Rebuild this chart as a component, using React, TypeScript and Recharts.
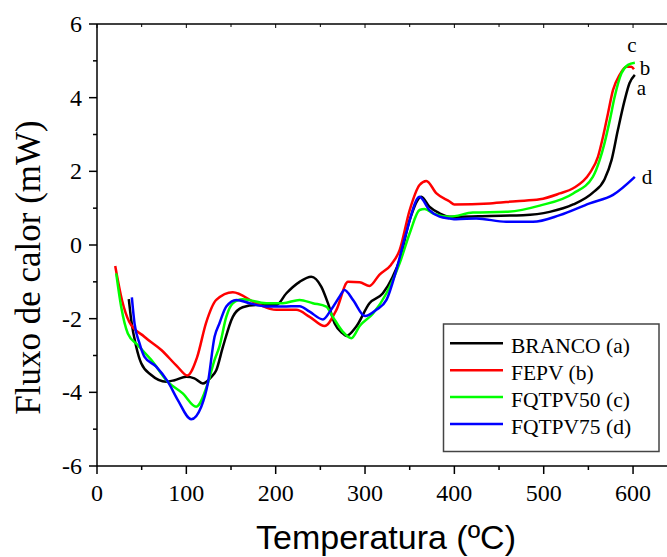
import React from "react";
import { LineChart, Line, XAxis, YAxis } from "recharts";

// ---- data ----
const brancoT = [35.6, 38.3, 43.9, 49.5, 60.7, 77.5, 86.8, 99.9, 109, 118.5, 128, 133.5, 141, 152, 163, 178, 200.7, 212, 226.8, 239.8, 251, 258.5, 266, 275, 279, 290, 305, 320, 331, 338.7, 350, 363, 372, 383.5, 394.7, 402, 439.5, 476.8, 506.7, 533, 555, 568, 576, 583, 590.7, 596, 602];
const brancoQ = [-1.47, -2.04, -2.76, -3.21, -3.53, -3.71, -3.67, -3.58, -3.62, -3.76, -3.58, -3.4, -2.76, -1.95, -1.69, -1.63, -1.63, -1.31, -1.0, -0.86, -1.13, -1.58, -2.13, -2.4, -2.47, -2.22, -1.58, -1.31, -0.86, -0.41, 0.68, 1.31, 1.04, 0.86, 0.77, 0.77, 0.79, 0.81, 0.9, 1.1, 1.42, 1.78, 2.31, 3.12, 3.94, 4.39, 4.62];

const fepvT = [20.4, 28, 36, 53, 72, 90, 101, 112, 122, 133.5, 152, 178, 200.7, 223, 238, 254.8, 268, 281, 294, 305, 316, 329, 338.7, 350, 361, 368.6, 380, 394.7, 400, 439.5, 469, 495.5, 518, 533, 551.5, 560.8, 566.4, 572, 577.6, 585, 592.6, 598, 601];
const fepvQ = [-0.57, -1.5, -2.08, -2.49, -2.85, -3.3, -3.54, -3.05, -2.12, -1.49, -1.28, -1.58, -1.76, -1.76, -1.95, -2.2, -1.76, -1.0, -1.01, -1.11, -0.81, -0.54, -0.14, 0.95, 1.63, 1.74, 1.4, 1.18, 1.1, 1.13, 1.19, 1.24, 1.4, 1.54, 1.95, 2.4, 2.94, 3.58, 4.21, 4.62, 4.84, 4.84, 4.77];

const fqtpv50T = [21.5, 27, 34.5, 45.7, 60.7, 79, 96, 111, 124, 131.6, 137, 144.7, 152, 163, 189.5, 208, 226.8, 241.6, 256.6, 264, 275, 284.7, 294, 309, 324, 338.7, 350, 361, 366.7, 376, 394.7, 420.8, 458, 495.5, 533, 555, 562.7, 568, 574, 579.5, 587, 594.4, 602];
const fqtpv50Q = [-0.77, -1.67, -2.4, -2.72, -3.12, -3.71, -4.03, -4.39, -3.76, -3.12, -2.76, -1.95, -1.58, -1.47, -1.58, -1.58, -1.49, -1.58, -1.67, -1.95, -2.35, -2.53, -2.2, -1.86, -1.31, -0.5, 0.32, 0.95, 0.98, 0.86, 0.77, 0.88, 0.9, 1.07, 1.4, 1.85, 2.31, 2.76, 3.39, 4.03, 4.66, 4.89, 4.95];

const fqtpv75T = [39, 42, 47.6, 53, 66.3, 79.3, 90.5, 105.5, 116.7, 124, 131.6, 137, 144.7, 156, 170.8, 189.5, 208, 226.8, 238, 252.9, 262, 271.6, 277, 286.5, 300, 312.6, 324, 335, 346, 361, 372, 383.5, 394.7, 402, 424.6, 458, 488, 518, 551.5, 577.6, 602];
const fqtpv75Q = [-1.42, -2.13, -2.67, -3.03, -3.3, -3.71, -4.21, -4.73, -4.39, -3.76, -2.49, -2.13, -1.67, -1.49, -1.58, -1.67, -1.67, -1.66, -1.81, -2.02, -1.76, -1.4, -1.22, -1.49, -1.93, -1.76, -1.49, -0.68, 0.32, 1.31, 0.95, 0.77, 0.72, 0.7, 0.72, 0.63, 0.63, 0.81, 1.13, 1.36, 1.85];

const seriesNames = ["BRANCO (a)", "FEPV (b)", "FQTPV50 (c)", "FQTPV75 (d)"];
const endLetters = ["a", "b", "c", "d"];
const seriesColors = ["#000000", "#ff0000", "#00ff00", "#0000ff"];

const xTicks = [0, 50, 100, 150, 200, 250, 300, 350, 400, 450, 500, 550, 600];
const yTicks = [-6, -5, -4, -3, -2, -1, 0, 1, 2, 3, 4, 5, 6];

const zip = (t: number[], q: number[]) => t.map((x, i) => ({ x, y: q[i] }));
const seriesData = [zip(brancoT, brancoQ), zip(fepvT, fepvQ), zip(fqtpv50T, fqtpv50Q), zip(fqtpv75T, fqtpv75Q)];

const SERIF = "'Liberation Serif', 'Times New Roman', serif";
const SANS = "'Liberation Sans', Arial, sans-serif";

const BottomTick = (props: any) => {
  const { x, y, payload } = props;
  const major = payload.value % 100 === 0;
  return (
    <g>
      <line x1={x} x2={x} y1={y} y2={y + (major ? 8 : 4)} stroke="#000" strokeWidth={1.5} />
      {major && (
        <text x={x} y={y + 35} textAnchor="middle" fontFamily={SERIF} fontSize={24} fill="#000">
          {payload.value}
        </text>
      )}
    </g>
  );
};

const TopTick = (props: any) => {
  const { x, y, payload } = props;
  const major = payload.value % 100 === 0;
  return <line x1={x} x2={x} y1={y} y2={y + (major ? 4 : 3)} stroke="#000" strokeWidth={1} />;
};

const LeftTick = (props: any) => {
  const { x, y, payload } = props;
  const major = payload.value % 2 === 0;
  return (
    <g>
      <line x1={x} x2={x - (major ? 8 : 4)} y1={y} y2={y} stroke="#000" strokeWidth={1.5} />
      {major && (
        <text x={x - 15} y={y + 8} textAnchor="end" fontFamily={SERIF} fontSize={24} fill="#000">
          {payload.value}
        </text>
      )}
    </g>
  );
};

// end-of-curve letter positions (text placement)
const letterPos = [
  { x: 641.5, y: 95 },
  { x: 645, y: 75 },
  { x: 632, y: 52 },
  { x: 647, y: 184 },
];

export default function App() {
  return (
    <div style={{ position: "absolute", left: 0, top: 0, width: 667, height: 557, background: "#fff", overflow: "hidden" }}>
      <LineChart width={667} height={557} margin={{ top: 0, right: 0, bottom: 0, left: 0 }}>
        <XAxis
          xAxisId="top"
          orientation="top"
          type="number"
          dataKey="x"
          domain={[0, 638]}
          ticks={xTicks}
          interval={0}
          height={24}
          tickSize={0}
          tickMargin={0}
          tick={<TopTick />}
          axisLine={{ stroke: "#000", strokeWidth: 1.5 }}
          tickLine={false}
          allowDataOverflow
        />
        <XAxis
          type="number"
          dataKey="x"
          domain={[0, 638]}
          ticks={xTicks}
          interval={0}
          height={91}
          tickSize={0}
          tickMargin={0}
          tick={<BottomTick />}
          axisLine={{ stroke: "#000", strokeWidth: 1.5 }}
          tickLine={false}
          allowDataOverflow
        />
        <YAxis
          type="number"
          domain={[-6, 6]}
          ticks={yTicks}
          interval={0}
          width={97}
          tickSize={0}
          tickMargin={0}
          tick={<LeftTick />}
          axisLine={{ stroke: "#000", strokeWidth: 1.5 }}
          tickLine={false}
          allowDataOverflow
        />
        {seriesData.map((d, i) => (
          <Line
            key={seriesNames[i]}
            data={d}
            dataKey="y"
            type="monotone"
            stroke={seriesColors[i]}
            strokeWidth={2.5}
            dot={false}
            activeDot={false}
            isAnimationActive={false}
          />
        ))}
      </LineChart>
      <svg
        width={667}
        height={557}
        style={{ position: "absolute", left: 0, top: 0, pointerEvents: "none" }}
      >
        <text
          transform="translate(40,267.5) rotate(-90)"
          textAnchor="middle"
          fontFamily={SERIF}
          fontSize={35}
          fill="#000"
        >
          Fluxo de calor (mW)
        </text>
        <text x={386} y={549} textAnchor="middle" fontFamily={SANS} fontSize={34} fill="#000">
          Temperatura (ºC)
        </text>
        {endLetters.map((l, i) => (
          <text key={l} x={letterPos[i].x} y={letterPos[i].y} textAnchor="middle" fontFamily={SERIF} fontSize={21} fill="#000">
            {l}
          </text>
        ))}
        <rect x={443.5} y={324} width={215.5} height={127.5} fill="#fff" stroke="#444" strokeWidth={1.5} />
        {seriesNames.map((n, i) => (
          <g key={n}>
            <line x1={450} x2={503} y1={343.3 + i * 26.9} y2={343.3 + i * 26.9} stroke={seriesColors[i]} strokeWidth={2.5} />
            <text x={511} y={353.3 + i * 26.9} fontFamily={SERIF} fontSize={21.5} fill="#000">
              {n}
            </text>
          </g>
        ))}
      </svg>
    </div>
  );
}
